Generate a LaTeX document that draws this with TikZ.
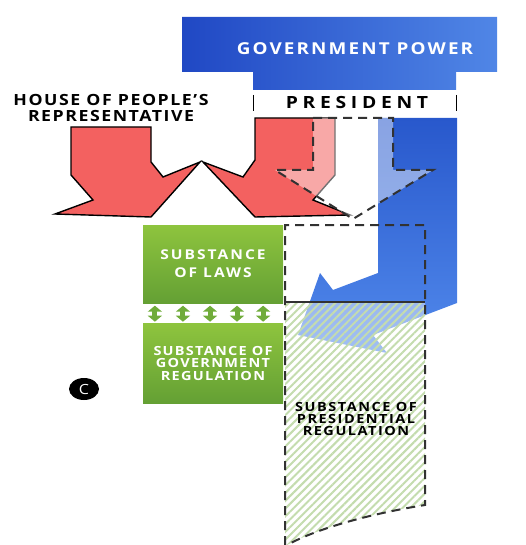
\documentclass[tikz,border=0pt]{standalone}
\usepackage{fontspec}
\setmainfont{Open Sans}
\newfontfamily\capsfont[FakeStretch=1.15]{Open Sans}
\usetikzlibrary{arrows.meta,calc,patterns.meta,positioning,shapes.geometric}

\definecolor{arrowred}{RGB}{243,97,96}
\definecolor{govdark}{RGB}{32,72,196}
\definecolor{govlight}{RGB}{80,134,230}
\definecolor{bardark}{RGB}{40,88,204}
\definecolor{barlight}{RGB}{82,138,236}
\definecolor{greenlight}{RGB}{142,196,62}
\definecolor{greendark}{RGB}{100,160,52}
\definecolor{greenmid}{RGB}{112,172,58}
\definecolor{hatchgreen}{RGB}{196,220,174}
\definecolor{dashgray}{RGB}{50,50,50}

\tikzset{
  redarrow/.style={draw=black, line width=1.4pt, line join=miter, fill=arrowred},
  ghostarrow/.style={draw=dashgray, line width=2pt, dash pattern=on 9pt off 6pt,
    fill=white, fill opacity=0.45},
  dashbox/.style={draw=dashgray, line width=2pt, dash pattern=on 9pt off 6pt},
  greenbox/.style={top color=greenlight, bottom color=greendark, draw=none,
    minimum width=140pt, align=center, text=white, inner sep=0pt},
  updown/.style={draw=greenmid, line width=5pt,
    {Triangle[width=14pt,length=6pt]}-{Triangle[width=14pt,length=6pt]},
    shorten <=2.5pt, shorten >=1.5pt},
}

\begin{document}
\begin{tikzpicture}[x=1pt,y=-1pt]
  \useasboundingbox (0,0) rectangle (525,545);
  %%%%% top block
  \shade[left color=govdark, right color=govlight]
    (182,17) -- (497,17) -- (497,72) -- (456,72) -- (456,90) -- (253,90) -- (253,72) -- (182,72) -- cycle;
  \node[text=white, font=\capsfont\bfseries\fontsize{16.4}{18}\selectfont\addfontfeatures{LetterSpace=13}]
    (govpower) at (355,49) {GOVERNMENT POWER};
  \node[font=\capsfont\bfseries\fontsize{16.8}{18}\selectfont\addfontfeatures{LetterSpace=28}]
    (president) at (357,103) {PRESIDENT};
  \draw[line width=1pt] (253,95) -- (253,111);
  \draw[line width=1pt] (456,95) -- (456,111);

  %%%%% red arrows
  \draw[redarrow] (71,127) -- (151,127) -- (151,162) -- (163,177) -- (200,162) -- (151,217)
    -- (55,214) -- (93,200) -- (71,175) -- cycle;
  \draw[redarrow] (255,118) -- (335,118) -- (335,175) -- (313,200) -- (350,215) -- (255,217)
    -- (203,162) -- (243,177) -- (255,160) -- cycle;
  \node[font=\capsfont\bfseries\fontsize{15.4}{16.5}\selectfont\addfontfeatures{LetterSpace=10},
    align=center] (house) at (111,108) {HOUSE OF PEOPLE’S\\REPRESENTATIVE};

  %%%%% blue arrow
  \shade[top color=bardark, bottom color=barlight]
    (378,118) -- (457,118) -- (457,303) -- (373,335) -- (387,353) -- (298,335)
    -- (320,273) -- (333,290) -- (378,273) -- cycle;

  %%%%% ghost arrow
  \path[ghostarrow] (313,118) -- (393,118) -- (393,170) -- (433,170) -- (353,219)
    -- (275,170) -- (313,170) -- cycle;

  %%%%% presidential regulation
  \fill[white, opacity=0.45] (285,302) -- (425,302) -- (425,505)
    .. controls (375,513) and (320,527) .. (287,545) -- (285,545) -- cycle;
  \fill[pattern={Lines[angle=45,distance=5.5pt,line width=2pt]}, pattern color=hatchgreen]
    (285,302) -- (425,302) -- (425,505)
    .. controls (375,513) and (320,527) .. (287,545) -- (285,545) -- cycle;
  \draw[dashbox] (285,545) -- (285,225) -- (425,225) -- (425,505)
    .. controls (375,513) and (320,527) .. (287,545);
  \draw[dashgray, line width=2pt] (285,302) -- (425,302);
  \node[font=\capsfont\bfseries\fontsize{12.6}{12}\selectfont\addfontfeatures{LetterSpace=12},
    align=center] (presreg) at (356,419) {SUBSTANCE OF\\PRESIDENTIAL\\REGULATION};

  %%%%% green boxes
  \node[greenbox, minimum height=78pt,
    font=\capsfont\bfseries\fontsize{13.5}{18}\selectfont\addfontfeatures{LetterSpace=15}]
    (laws) at (213,264) {SUBSTANCE\\OF LAWS};
  \node[greenbox, minimum height=80pt, below=20pt of laws,
    font=\capsfont\bfseries\fontsize{12.6}{12.5}\selectfont\addfontfeatures{LetterSpace=10}]
    (govreg) {SUBSTANCE OF\\GOVERNMENT\\REGULATION};
  \foreach \f in {0.086,0.286,0.479,0.671,0.857}
    \draw[updown] ($(laws.south west)!\f!(laws.south east)$) -- ($(govreg.north west)!\f!(govreg.north east)$);

  \node[ellipse, fill=black, text=white, minimum width=30pt, minimum height=22pt, inner sep=0pt,
    font=\capsfont\fontsize{14}{14}\selectfont] (copyr) at (84,389) {C};
\end{tikzpicture}
\end{document}
